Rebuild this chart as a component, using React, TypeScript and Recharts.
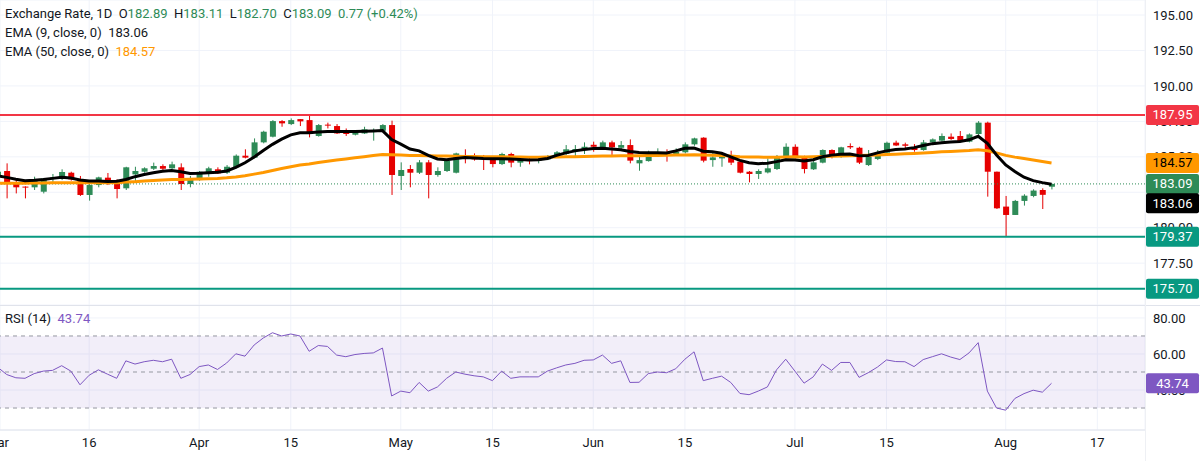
import React from "react";
import {
  ComposedChart,
  Bar,
  Line,
  XAxis,
  YAxis,
  CartesianGrid,
  ReferenceLine,
  ReferenceArea,
} from "recharts";

const UP = "#2e8b57";
const DOWN = "#e60000";
const TEXT = "#131722";
const GRID = "#f0f3fa";
const FONT = "Roboto, 'Noto Sans', sans-serif";

// daily candles, Mar 2 .. Aug 10 (index = trading day)
const open = [
  183.6, 184.0, 183.18, 182.9, 182.85, 182.54, 183.5, 183.48, 183.88, 183.43,
  182.31, 183.01, 183.53, 183.13, 182.78, 183.76, 183.95, 184.16, 184.35, 184.19,
  184.26, 183.08, 183.36, 183.83, 184.12, 183.88, 184.26, 185.08, 184.94, 186.02,
  186.42, 187.52, 187.31, 187.66, 187.59, 186.47, 187.27, 187.17, 186.7, 186.56,
  186.65, 186.77, 186.84, 187.24, 183.65, 184.14, 183.88, 184.61, 183.72, 184.0,
  183.88, 185.13, 185.06, 184.94, 184.84, 184.49, 185.2, 184.59, 184.77, 184.73,
  184.82, 185.01, 185.2, 185.46, 185.48, 185.85, 185.67, 186.02, 185.64, 185.83,
  184.54, 184.7, 185.13, 185.32, 185.13, 185.32, 185.88, 186.35, 184.77, 184.89,
  184.96, 184.66, 183.95, 183.79, 183.9, 184.14, 184.94, 185.71, 185.01, 184.12,
  184.59, 185.48, 185.01, 185.76, 185.64, 184.42, 184.85, 185.29, 186.0, 185.88,
  185.67, 185.48, 186.02, 186.14, 186.42, 186.47, 186.07, 186.61, 187.41, 183.95,
  181.49, 180.9, 181.89, 182.24, 182.66, 182.89,
];
const high = [
  184.05, 184.54, 183.48, 182.92, 183.6, 183.48, 183.79, 184.12, 183.95, 183.65,
  183.08, 183.6, 183.86, 183.41, 184.3, 184.3, 184.26, 184.59, 184.47, 184.66,
  184.54, 183.65, 184.0, 184.3, 184.26, 184.42, 185.17, 185.53, 186.3, 186.84,
  187.59, 187.59, 187.71, 187.66, 187.95, 187.31, 187.41, 187.31, 187.0, 186.89,
  187.12, 187.0, 187.31, 187.55, 184.61, 184.42, 184.77, 184.77, 184.26, 184.82,
  185.29, 185.53, 185.24, 185.13, 184.94, 185.29, 185.29, 184.89, 184.96, 184.94,
  185.13, 185.41, 185.83, 185.83, 186.02, 186.07, 186.14, 186.14, 186.11, 186.23,
  185.06, 185.43, 185.6, 185.53, 185.6, 186.02, 186.35, 186.38, 185.36, 185.29,
  185.43, 184.73, 184.0, 184.12, 184.89, 185.13, 185.95, 185.88, 185.08, 184.73,
  185.53, 185.53, 185.71, 185.95, 185.71, 185.48, 185.48, 186.07, 186.14, 186.0,
  185.9, 186.19, 186.3, 186.65, 186.65, 186.82, 186.65, 187.52, 187.48, 183.96,
  182.24, 181.96, 182.36, 182.71, 182.78, 183.11,
];
const low = [
  183.45, 182.07, 182.42, 182.07, 182.66, 182.42, 183.08, 183.36, 183.32, 182.24,
  181.91, 182.85, 183.01, 182.07, 182.66, 183.29, 183.88, 184.07, 183.95, 184.12,
  182.66, 182.85, 183.32, 183.6, 183.79, 183.79, 184.19, 184.89, 184.89, 185.95,
  186.37, 187.12, 187.24, 187.17, 186.37, 186.42, 187.0, 186.61, 186.47, 186.51,
  186.61, 186.14, 186.77, 182.31, 182.66, 182.85, 183.79, 182.07, 183.6, 183.93,
  183.83, 184.54, 184.73, 184.07, 184.26, 184.42, 184.26, 184.3, 184.47, 184.54,
  184.77, 184.96, 185.13, 185.01, 185.2, 185.36, 185.6, 185.13, 185.55, 184.54,
  184.02, 184.66, 185.01, 184.66, 185.06, 185.24, 185.78, 184.61, 184.3, 184.3,
  184.42, 183.83, 183.2, 183.44, 183.83, 184.07, 184.89, 184.89, 183.83, 184.07,
  184.54, 184.89, 184.94, 185.55, 184.49, 184.35, 184.77, 185.24, 185.76, 185.48,
  185.36, 185.43, 185.95, 186.07, 186.19, 186.07, 186.02, 186.54, 182.19, 181.32,
  179.37, 180.9, 181.56, 182.15, 181.32, 182.7,
];
const close = [
  183.95, 183.18, 182.85, 182.85, 183.32, 183.48, 183.55, 183.93, 183.41, 182.31,
  183.01, 183.55, 183.08, 182.73, 184.26, 184.0, 184.19, 184.35, 184.16, 184.47,
  183.08, 183.41, 183.95, 184.19, 183.83, 184.3, 185.08, 184.94, 186.02, 186.77,
  187.52, 187.36, 187.59, 187.5, 186.61, 187.24, 187.2, 186.65, 186.61, 186.84,
  186.94, 186.84, 187.24, 183.72, 184.07, 183.88, 184.61, 183.72, 184.0, 184.73,
  185.24, 185.01, 184.82, 184.87, 184.49, 185.2, 184.59, 184.77, 184.7, 184.82,
  185.06, 185.32, 185.53, 185.55, 185.71, 185.71, 186.02, 185.67, 185.83, 184.73,
  184.77, 185.17, 185.32, 185.17, 185.36, 185.88, 186.3, 184.73, 184.96, 185.08,
  184.59, 183.88, 183.79, 184.0, 184.19, 185.01, 185.71, 184.94, 184.14, 184.61,
  185.48, 185.01, 185.67, 185.67, 184.59, 185.01, 185.29, 185.99, 185.8, 185.78,
  185.48, 186.02, 186.23, 186.47, 186.26, 186.11, 186.58, 187.41, 183.95, 181.37,
  180.9, 181.89, 182.26, 182.62, 182.32, 183.09,
];
const ema9 = [
  183.65, 183.55, 183.42, 183.32, 183.35, 183.4, 183.48, 183.56, 183.5, 183.37,
  183.3, 183.3, 183.26, 183.28, 183.4, 183.6, 183.75, 183.88, 183.98, 184.03,
  183.95, 183.82, 183.84, 183.88, 183.92, 184.0, 184.25, 184.58, 184.98, 185.45,
  185.88, 186.25, 186.55, 186.7, 186.7, 186.75, 186.78, 186.78, 186.78, 186.78,
  186.8, 186.82, 186.85, 186.22, 185.9, 185.55, 185.42, 185.1, 184.85, 184.8,
  184.88, 184.95, 184.92, 184.88, 184.87, 184.87, 184.85, 184.82, 184.78, 184.8,
  184.88, 185.1, 185.28, 185.42, 185.52, 185.58, 185.6, 185.55, 185.5, 185.38,
  185.3, 185.28, 185.28, 185.27, 185.42, 185.6, 185.62, 185.4, 185.35, 185.25,
  185.0, 184.75, 184.58, 184.52, 184.55, 184.66, 184.8, 184.78, 184.7, 184.8,
  185.0, 185.12, 185.18, 185.2, 185.08, 185.1, 185.28, 185.42, 185.52, 185.55,
  185.65, 185.8, 185.93, 186.0, 186.05, 186.08, 186.2, 186.45, 185.95, 185.13,
  184.43, 183.96, 183.56, 183.32, 183.18, 183.06,
];
const ema50 = [
  183.13, 183.14, 183.14, 183.14, 183.15, 183.16, 183.17, 183.18, 183.18, 183.17,
  183.17, 183.18, 183.18, 183.17, 183.22, 183.25, 183.29, 183.33, 183.36, 183.4,
  183.4, 183.41, 183.43, 183.46, 183.48, 183.52, 183.58, 183.66, 183.78, 183.9,
  184.04, 184.17, 184.3, 184.42, 184.5, 184.6, 184.69, 184.77, 184.85, 184.93,
  185.01, 185.09, 185.16, 185.14, 185.12, 185.1, 185.1, 185.08, 185.06, 185.05,
  185.04, 185.03, 185.02, 185.01, 185.0, 185.0, 184.99, 184.98, 184.97, 184.97,
  184.98, 184.99, 185.0, 185.01, 185.03, 185.04, 185.05, 185.06, 185.07, 185.08,
  185.08, 185.09, 185.1, 185.11, 185.12, 185.13, 185.14, 185.12, 185.11, 185.09,
  185.05, 185.01, 184.99, 184.98, 184.97, 184.97, 184.99, 185.0, 184.99, 185.0,
  185.02, 185.04, 185.06, 185.08, 185.1, 185.11, 185.13, 185.16, 185.19, 185.22,
  185.24, 185.27, 185.31, 185.35, 185.38, 185.41, 185.44, 185.5, 185.43, 185.28,
  185.1, 184.98, 184.88, 184.78, 184.67, 184.57,
];
const rsi = [
  52.7, 48.6, 46.8, 46.5, 49.1, 50.5, 50.9, 53.5, 50.5, 42.9,
  48.2, 51.2, 48.8, 46.5, 56.2, 54.4, 55.7, 56.5, 55.7, 57.1,
  46.5, 48.6, 53.0, 53.9, 51.4, 55.0, 60.1, 58.8, 65.0, 68.9,
  71.8, 70.0, 71.1, 70.0, 61.5, 64.7, 64.2, 59.4, 58.5, 59.7,
  60.3, 60.6, 63.3, 36.7, 39.4, 38.5, 44.2, 39.4, 41.7, 46.5,
  50.0, 48.8, 47.9, 47.3, 45.2, 50.5, 46.5, 47.3, 47.3, 47.3,
  50.5, 52.3, 53.9, 54.8, 56.5, 56.7, 59.4, 54.8, 56.2, 44.2,
  44.3, 49.1, 50.0, 49.6, 51.8, 57.1, 61.2, 45.2, 46.5, 47.7,
  44.2, 38.1, 37.4, 39.4, 41.7, 51.2, 57.1, 50.5, 43.8, 47.3,
  54.4, 50.9, 55.3, 55.3, 47.0, 49.6, 52.7, 56.7, 55.8, 55.7,
  53.0, 56.9, 58.5, 60.1, 58.3, 56.9, 60.6, 66.3, 39.4, 30.0,
  28.8, 35.3, 38.0, 39.9, 38.8, 43.74,
];

// time axis labels (trading-day index -> label)
const tickIndex = [0, 10, 22, 32, 44, 54, 65, 75, 87, 97, 110, 120];
const tickLabels = ["Mar", "16", "Apr", "15", "May", "15", "Jun", "15", "Jul", "15", "Aug", "17"];
const priceTicks = [175, 177.5, 180, 182.5, 185, 187.5, 190, 192.5, 195];
const rsiTicks = [40, 60, 80];

const candles = open.map((o, i) => ({
  i,
  open: o,
  high: high[i],
  low: low[i],
  close: close[i],
  range: [low[i], high[i]],
  ema9: ema9[i],
  ema50: ema50[i],
}));
const rsiData = rsi.map((v, i) => ({ i, rsi: v }));

const X_DOMAIN: [number, number] = [0.27, 125.2];
const PRICE_DOMAIN: [number, number] = [174.55, 196.06];
const RSI_DOMAIN: [number, number] = [17.8, 87.2];

function Candle(props: any) {
  const { x, width, payload } = props;
  let { y, height } = props;
  if (height < 0) {
    y += height;
    height = -height;
  }
  const { open: o, close: c, high: h, low: l } = payload;
  const color = c >= o ? UP : DOWN;
  const ppu = height / (h - l || 1);
  const top = y + (h - Math.max(o, c)) * ppu;
  const bodyH = Math.max(1, Math.abs(o - c) * ppu);
  const cx = x + width / 2;
  return (
    <g>
      <line x1={cx} x2={cx} y1={y} y2={y + height} stroke={color} strokeWidth={1} />
      <rect x={x} y={top} width={width} height={bodyH} fill={color} />
    </g>
  );
}

// price tag drawn in the axis column, at the right end of a reference line
const tag = (text: string, bg: string, fg: string, dy = 0) => (props: any) => {
  const vb = props.viewBox;
  const x = vb.x + vb.width + 1;
  const y = vb.y + dy;
  return (
    <g>
      <rect x={x} y={y - 10} width={53} height={20} rx={2} fill={bg} />
      <text x={x + 26.5} y={y + 4.5} textAnchor="middle" fill={fg} fontSize={13} fontFamily={FONT}>
        {text}
      </text>
    </g>
  );
};

const axisTick = { fill: TEXT, fontSize: 13, fontFamily: FONT };
const layer: React.CSSProperties = { position: "absolute", left: 0, pointerEvents: "none" };

export default function App() {
  return (
    <div
      style={{
        position: "absolute",
        left: 0,
        top: 0,
        width: 1200,
        height: 461,
        background: "#fff",
        overflow: "hidden",
        fontFamily: FONT,
        color: TEXT,
      }}
    >
      {/* price pane */}
      <div style={{ ...layer, top: 0 }}>
        <ComposedChart width={1200} height={305} data={candles} margin={{ top: 0, right: 0, bottom: 0, left: 0 }}>
          <CartesianGrid stroke={GRID} />
          <XAxis dataKey="i" type="number" domain={X_DOMAIN} ticks={tickIndex} allowDataOverflow hide />
          <YAxis
            orientation="right"
            width={55}
            domain={PRICE_DOMAIN}
            ticks={priceTicks}
            allowDataOverflow
            tickFormatter={(v: number) => v.toFixed(2)}
            axisLine={false}
            tickLine={false}
            tick={axisTick}
          />
          <ReferenceLine y={183.09} stroke={UP} strokeDasharray="1 2" />
          <ReferenceLine y={187.95} stroke="#f23645" strokeWidth={2} />
          <ReferenceLine y={179.37} stroke="#089981" strokeWidth={2} />
          <ReferenceLine y={175.7} stroke="#089981" strokeWidth={2} />
          <Line dataKey="ema50" type="linear" stroke="#ff9800" strokeWidth={3} dot={false} isAnimationActive={false} />
          <Line dataKey="ema9" type="linear" stroke="#000" strokeWidth={3} dot={false} isAnimationActive={false} />
          <Bar dataKey="range" barSize={6} shape={<Candle />} isAnimationActive={false} />
        </ComposedChart>
      </div>

      {/* price tags on top of the axis labels */}
      <div style={{ ...layer, top: 0 }}>
        <ComposedChart width={1200} height={305} data={candles} margin={{ top: 0, right: 55, bottom: 0, left: 0 }}>
          <XAxis dataKey="i" type="number" domain={X_DOMAIN} allowDataOverflow hide />
          <YAxis domain={PRICE_DOMAIN} allowDataOverflow hide />
          <ReferenceLine y={187.95} stroke="none" label={tag("187.95", "#f23645", "#fff")} />
          <ReferenceLine y={184.57} stroke="none" label={tag("184.57", "#ff9800", "#000")} />
          <ReferenceLine y={183.09} stroke="none" label={tag("183.09", UP, "#fff")} />
          <ReferenceLine y={183.06} stroke="none" label={tag("183.06", "#000", "#fff", 19)} />
          <ReferenceLine y={179.37} stroke="none" label={tag("179.37", "#089981", "#fff")} />
          <ReferenceLine y={175.7} stroke="none" label={tag("175.70", "#089981", "#fff")} />
        </ComposedChart>
      </div>

      {/* RSI pane + time axis */}
      <div style={{ ...layer, top: 305 }}>
        <ComposedChart width={1200} height={156} data={rsiData} margin={{ top: 0, right: 0, bottom: 0, left: 0 }}>
          <CartesianGrid stroke={GRID} />
          <ReferenceArea y1={30} y2={70} fill="#7e57c2" fillOpacity={0.1} stroke="none" />
          <XAxis
            dataKey="i"
            type="number"
            domain={X_DOMAIN}
            ticks={tickIndex}
            interval={0}
            allowDataOverflow
            height={31}
            tickFormatter={(v: number) => tickLabels[tickIndex.indexOf(v)]}
            axisLine={{ stroke: "#e0e3eb" }}
            tickLine={false}
            tick={axisTick}
          />
          <YAxis
            orientation="right"
            width={55}
            domain={RSI_DOMAIN}
            ticks={rsiTicks}
            allowDataOverflow
            tickFormatter={(v: number) => v.toFixed(2)}
            axisLine={false}
            tickLine={false}
            tick={axisTick}
          />
          <ReferenceLine y={70} stroke="#9598a1" strokeDasharray="4 4" />
          <ReferenceLine y={50} stroke="#9598a1" strokeDasharray="4 4" />
          <ReferenceLine y={30} stroke="#9598a1" strokeDasharray="4 4" />
          <Line dataKey="rsi" type="linear" stroke="#7e57c2" strokeWidth={1} dot={false} isAnimationActive={false} />
        </ComposedChart>
      </div>

      <div style={{ ...layer, top: 305 }}>
        <ComposedChart width={1200} height={156} data={rsiData} margin={{ top: 0, right: 55, bottom: 31, left: 0 }}>
          <XAxis dataKey="i" type="number" domain={X_DOMAIN} allowDataOverflow hide />
          <YAxis domain={RSI_DOMAIN} allowDataOverflow hide />
          <ReferenceLine y={43.74} stroke="none" label={tag("43.74", "#7e57c2", "#fff")} />
        </ComposedChart>
      </div>

      {/* pane separators */}
      <div style={{ position: "absolute", left: 0, top: 305, width: 1200, height: 1, background: "#e0e3eb" }} />
      <div style={{ position: "absolute", left: 1145, top: 0, width: 1, height: 461, background: "#eef0f4" }} />

      {/* legends */}
      <div style={{ position: "absolute", left: 5, top: 4, fontSize: 13, lineHeight: "19px", whiteSpace: "pre" }}>
        <div>
          Exchange Rate, 1D{"  "}O<span style={{ color: UP }}>182.89</span>{"  "}H
          <span style={{ color: UP }}>183.11</span>{"  "}L<span style={{ color: UP }}>182.70</span>{"  "}C
          <span style={{ color: UP }}>183.09</span>{"  "}
          <span style={{ color: UP }}>0.77 (+0.42%)</span>
        </div>
        <div>
          EMA (9, close, 0){"  "}
          <span>183.06</span>
        </div>
        <div>
          EMA (50, close, 0){"  "}
          <span style={{ color: "#ff9800" }}>184.57</span>
        </div>
      </div>
      <div style={{ position: "absolute", left: 5, top: 309, fontSize: 13, lineHeight: "19px", whiteSpace: "pre" }}>
        RSI (14){"  "}
        <span style={{ color: "#7e57c2" }}>43.74</span>
      </div>
    </div>
  );
}
